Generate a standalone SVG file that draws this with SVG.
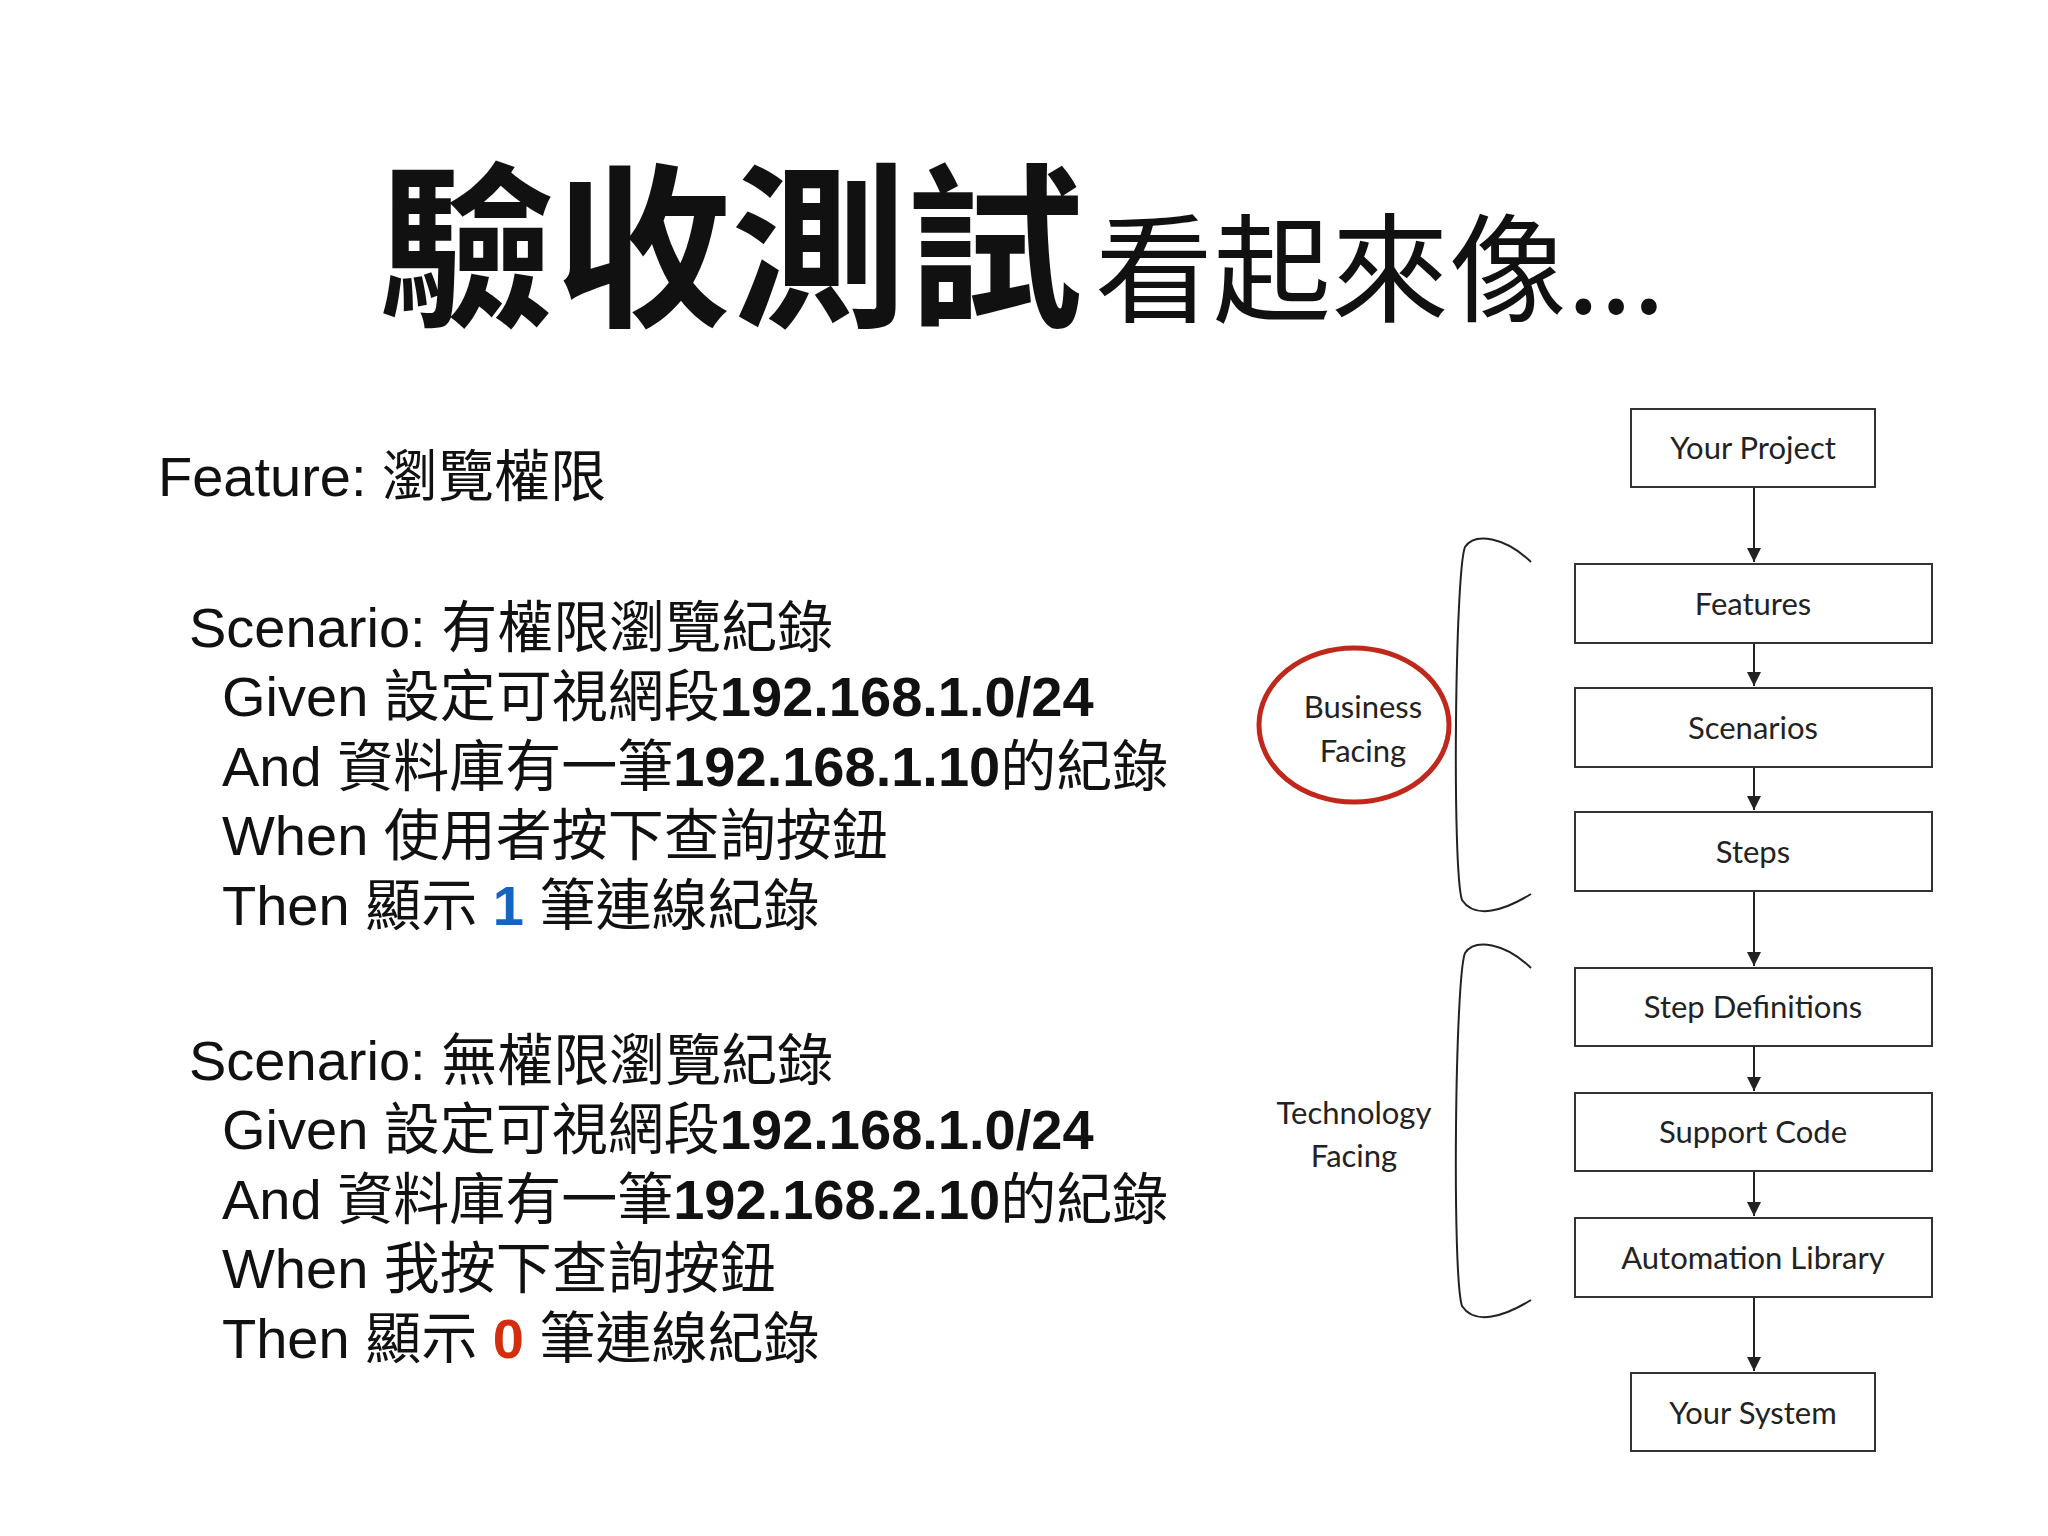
<svg xmlns="http://www.w3.org/2000/svg" width="2048" height="1536" viewBox="0 0 2048 1536">
<defs>
<style>
.t{font-family:"Liberation Sans","Noto Sans CJK TC",sans-serif;font-size:56px;fill:#111}
.b{font-weight:bold}
.box{fill:#fff;stroke:#333;stroke-width:2}
.bl{font-family:Lato,"Open Sans",sans-serif;font-size:31px;fill:#222;text-anchor:middle}
.c{stroke:#222;stroke-width:2;fill:none}
</style>
<marker id="ah" viewBox="0 0 10 10" refX="10" refY="5" markerWidth="7" markerHeight="7" orient="auto"><path d="M0,0L10,5L0,10z" fill="#222"/></marker>
</defs>
<rect width="2048" height="1536" fill="#fff"/>
<text x="379" y="313" font-family="'Noto Sans CJK TC',sans-serif" fill="#111"><tspan font-size="176" font-weight="bold">驗收測試</tspan><tspan font-size="118" dx="12">看起來像...</tspan></text>
<text class="t" x="158" y="496">Feature: 瀏覽權限</text>
<text class="t" x="189" y="647">Scenario: 有權限瀏覽紀錄</text>
<text class="t" x="222" y="716">Given 設定可視網段<tspan class="b">192.168.1.0/24</tspan></text>
<text class="t" x="222" y="786">And 資料庫有一筆<tspan class="b">192.168.1.10</tspan>的紀錄</text>
<text class="t" x="222" y="855">When 使用者按下查詢按鈕</text>
<text class="t" x="222" y="925">Then 顯示 <tspan class="b" fill="#1565c0">1</tspan> 筆連線紀錄</text>
<text class="t" x="189" y="1080">Scenario: 無權限瀏覽紀錄</text>
<text class="t" x="222" y="1149">Given 設定可視網段<tspan class="b">192.168.1.0/24</tspan></text>
<text class="t" x="222" y="1219">And 資料庫有一筆<tspan class="b">192.168.2.10</tspan>的紀錄</text>
<text class="t" x="222" y="1288">When 我按下查詢按鈕</text>
<text class="t" x="222" y="1358">Then 顯示 <tspan class="b" fill="#d32f0f">0</tspan> 筆連線紀錄</text>
<g id="connectors">
<line class="c" x1="1754" y1="487" x2="1754" y2="562" marker-end="url(#ah)"/>
<line class="c" x1="1754" y1="643" x2="1754" y2="686" marker-end="url(#ah)"/>
<line class="c" x1="1754" y1="767" x2="1754" y2="810" marker-end="url(#ah)"/>
<line class="c" x1="1754" y1="891" x2="1754" y2="966" marker-end="url(#ah)"/>
<line class="c" x1="1754" y1="1046" x2="1754" y2="1091" marker-end="url(#ah)"/>
<line class="c" x1="1754" y1="1171" x2="1754" y2="1216" marker-end="url(#ah)"/>
<line class="c" x1="1754" y1="1297" x2="1754" y2="1371" marker-end="url(#ah)"/>
<path class="c" stroke-width="1.5" d="M1531,562 C1505,537 1475,532 1465,547 C1455,572 1452,870 1462,900 C1475,920 1505,910 1531,894"/>
<path class="c" stroke-width="1.5" d="M1531,968 C1505,943 1475,938 1465,953 C1455,978 1452,1276 1462,1306 C1475,1326 1505,1316 1531,1300"/>
</g>
<g id="your-project"><rect class="box" x="1631" y="409" width="244" height="78"/><text class="bl" x="1753" y="459">Your Project</text></g>
<g id="features"><rect class="box" x="1575" y="564" width="357" height="79"/><text class="bl" x="1753" y="615">Features</text></g>
<g id="scenarios"><rect class="box" x="1575" y="688" width="357" height="79"/><text class="bl" x="1753" y="739">Scenarios</text></g>
<g id="steps"><rect class="box" x="1575" y="812" width="357" height="79"/><text class="bl" x="1753" y="863">Steps</text></g>
<g id="step-definitions"><rect class="box" x="1575" y="968" width="357" height="78"/><text class="bl" x="1753" y="1018">Step Definitions</text></g>
<g id="support-code"><rect class="box" x="1575" y="1093" width="357" height="78"/><text class="bl" x="1753" y="1143">Support Code</text></g>
<g id="automation-library"><rect class="box" x="1575" y="1218" width="357" height="79"/><text class="bl" x="1753" y="1269">Automation Library</text></g>
<g id="your-system"><rect class="box" x="1631" y="1373" width="244" height="78"/><text class="bl" x="1753" y="1424">Your System</text></g>
<g id="business-facing">
<ellipse cx="1354" cy="725" rx="95" ry="77" fill="none" stroke="#c0281c" stroke-width="5"/>
<text class="bl" x="1363" y="718">Business</text><text class="bl" x="1363" y="762">Facing</text>
</g>
<g id="technology-facing"><text class="bl" x="1354" y="1124">Technology</text><text class="bl" x="1354" y="1167">Facing</text></g>
</svg>
